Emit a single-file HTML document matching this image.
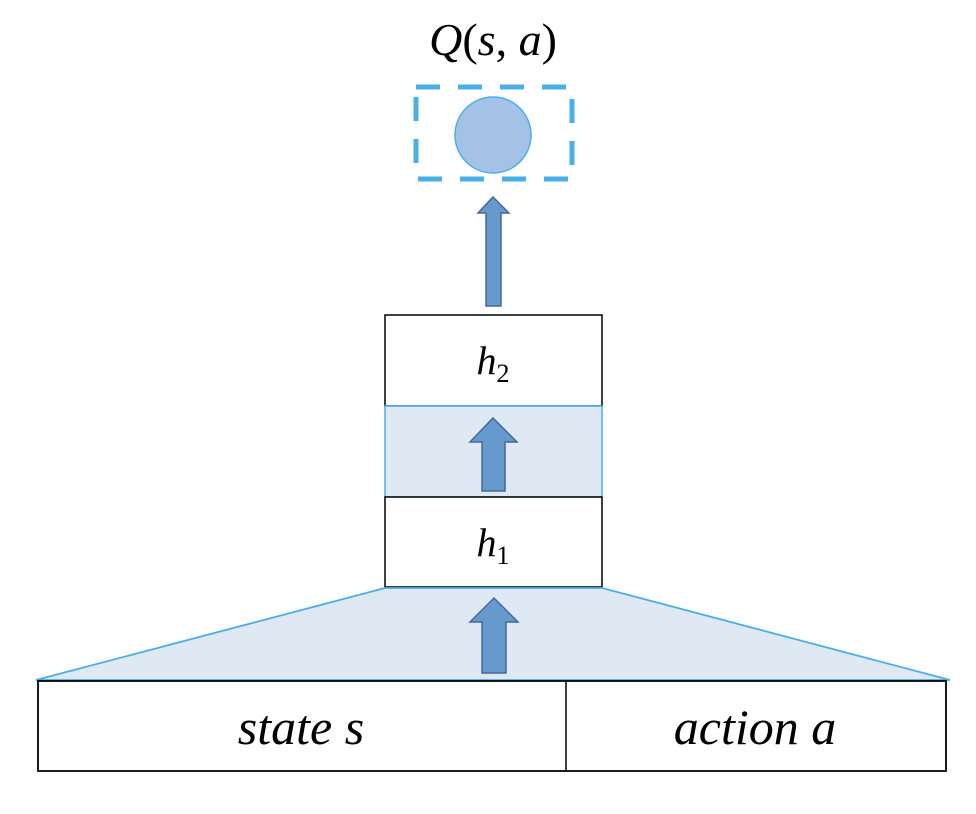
<!DOCTYPE html>
<html><head><meta charset="utf-8"><style>
html,body{margin:0;padding:0;background:#fff;}
svg{display:block;}
text{font-family:"Liberation Serif",serif;font-style:italic;fill:#000;}
</style></head><body>
<svg width="976" height="814" viewBox="0 0 976 814" xmlns="http://www.w3.org/2000/svg">
<!-- Q label -->
<text x="493" y="55" font-size="46" text-anchor="middle">Q<tspan font-style="normal">(</tspan>s<tspan font-style="normal">, </tspan>a<tspan font-style="normal">)</tspan></text>
<!-- dashed box -->
<rect x="416" y="87" width="156" height="92" fill="none" stroke="#4aaee8" stroke-width="5" stroke-dasharray="24,18"/>
<circle cx="493" cy="135" r="38" fill="#a3c2e6" stroke="#4aaee8" stroke-width="1.5"/>
<!-- top arrow -->
<polygon points="493,197 509,213 501,213 501,306 486,306 486,213 478,213" fill="#6699cc" stroke="#46689a" stroke-width="1.5"/>
<!-- h2 -->
<rect x="385" y="315" width="217" height="91" fill="#fff" stroke="#000" stroke-width="1.5"/>
<text x="493" y="374" font-size="40" text-anchor="middle">h<tspan font-size="26" font-style="normal" dy="8">2</tspan></text>
<!-- band -->
<rect x="385" y="406" width="217" height="91" fill="#dfe9f4" stroke="#4aaee8" stroke-width="1.5"/>
<polygon points="493,418 517,442 505,442 505,491 482,491 482,442 470,442" fill="#6699cc" stroke="#46689a" stroke-width="1.5"/>
<!-- h1 -->
<rect x="385" y="497" width="217" height="90" fill="#fff" stroke="#000" stroke-width="1.5"/>
<text x="493" y="556" font-size="40" text-anchor="middle">h<tspan font-size="26" font-style="normal" dy="8">1</tspan></text>
<!-- trapezoid -->
<polygon points="385,588 602,588 950,680 36,680" fill="#dfe9f4" stroke="#4aaee8" stroke-width="1.8"/>
<polygon points="494,598 518,622 506,622 506,673 482,673 482,622 470,622" fill="#6699cc" stroke="#46689a" stroke-width="1.5"/>
<!-- input boxes -->
<rect x="38" y="681" width="908" height="90" fill="#fff" stroke="#000" stroke-width="1.8"/>
<line x1="566" y1="681" x2="566" y2="771" stroke="#000" stroke-width="1.5"/>
<text x="301" y="744" font-size="50" text-anchor="middle">state s</text>
<text x="755" y="744" font-size="50" text-anchor="middle">action a</text>
</svg>
</body></html>
